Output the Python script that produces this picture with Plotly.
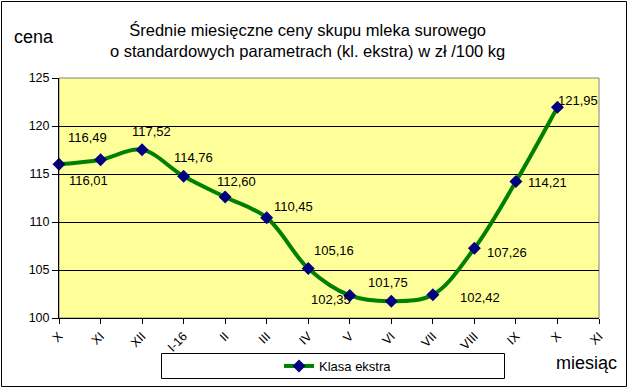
import plotly.graph_objects as go

months = ["X", "XI", "XII", "I-16", "II", "III", "IV", "V", "VI", "VII", "VIII", "IX", "X", "XI"]
prices = [116.01, 116.49, 117.52, 114.76, 112.60, 110.45, 105.16, 102.35, 101.75, 102.42, 107.26, 114.21, 121.95]
series_name = "Klasa ekstra"
title_lines = ["Średnie miesięczne ceny skupu mleka surowego",
               "o standardowych parametrach (kl. ekstra) w zł /100 kg"]

# label offsets (px) per point: (xshift, yshift)
label_offsets = [(29, -16), (-13, 22), (9, 18), (10, 19), (11, 16), (27, 11), (26, 18),
                 (-19, -4), (-3, 19), (47, -3), (33, -4), (32, -1), (21, 7)]

FONT = "Liberation Sans, Arial, sans-serif"
L, R, T, B = 59, 29, 78, 70
W, H = 628, 388
PW, PH = W - L - R, H - T - B

def px(xp):
    return (xp - L) / PW

def py(yp):
    return (H - B - yp) / PH

x_idx = list(range(len(prices)))

fig = go.Figure()
fig.add_trace(go.Scatter(
    x=x_idx, y=prices, name=series_name, mode="lines+markers",
    line=dict(color="#008000", width=4, shape="spline", smoothing=1),
    marker=dict(symbol="diamond", size=10, color="#000080"),
    cliponaxis=False,
))

annotations = []
for i, (v, (dx, dy)) in enumerate(zip(prices, label_offsets)):
    annotations.append(dict(
        x=i, y=v, xref="x", yref="y", text=f"{v:.2f}".replace(".", ","),
        showarrow=False, xshift=dx, yshift=dy,
        font=dict(family=FONT, size=13, color="black"),
    ))

annotations.append(dict(x=px(307), y=py(40.5), xref="paper", yref="paper",
                        text="<br>".join(title_lines), showarrow=False,
                        font=dict(family=FONT, size=16.5, color="black"),
                        xanchor="center", yanchor="middle", align="center"))
annotations.append(dict(x=px(12), y=py(37), xref="paper", yref="paper",
                        text="cena", showarrow=False,
                        font=dict(family=FONT, size=18, color="black"),
                        xanchor="left", yanchor="middle"))
annotations.append(dict(x=px(619), y=py(363), xref="paper", yref="paper",
                        text="miesiąc", showarrow=False,
                        font=dict(family=FONT, size=18, color="black"),
                        xanchor="right", yanchor="middle"))

shapes = [
    # plot area border (gray)
    dict(type="rect", xref="paper", yref="paper", x0=0, x1=1, y0=0, y1=1,
         line=dict(color="#808080", width=1), layer="below"),
    # figure border
    dict(type="rect", xref="paper", yref="paper",
         x0=px(1.5), x1=px(626.5), y0=py(386.5), y1=py(1.5),
         line=dict(color="black", width=1)),
    # legend box
    dict(type="rect", xref="paper", yref="paper",
         x0=px(161.5), x1=px(504.5), y0=py(378.5), y1=py(353.5),
         line=dict(color="black", width=1)),
]

fig.update_layout(
    width=W, height=H,
    margin=dict(l=L, r=R, t=T, b=B, autoexpand=False),
    paper_bgcolor="white",
    plot_bgcolor="#FFFF99",
    font=dict(family=FONT, size=12, color="black"),
    showlegend=True,
    legend=dict(x=px(279), y=py(366), xanchor="left", yanchor="middle",
                bgcolor="rgba(0,0,0,0)", borderwidth=0,
                font=dict(family=FONT, size=13, color="black")),
    annotations=annotations,
    shapes=shapes,
    xaxis=dict(range=[0, len(months) - 1], tickvals=list(range(len(months))),
               ticktext=months, tickangle=-45, showgrid=False, zeroline=False,
               showline=True, linecolor="black", linewidth=1, automargin=False,
               ticks="outside", ticklen=5, tickcolor="black",
               tickfont=dict(family=FONT, size=12.5)),
    yaxis=dict(range=[100, 125], dtick=5, showgrid=True, gridcolor="black",
               gridwidth=1, zeroline=False, showline=True, linecolor="black",
               linewidth=1, ticks="outside", ticklen=6, tickcolor="black",
               automargin=False, tickfont=dict(family=FONT, size=12.5)),
)

fig.write_html("out.html")
